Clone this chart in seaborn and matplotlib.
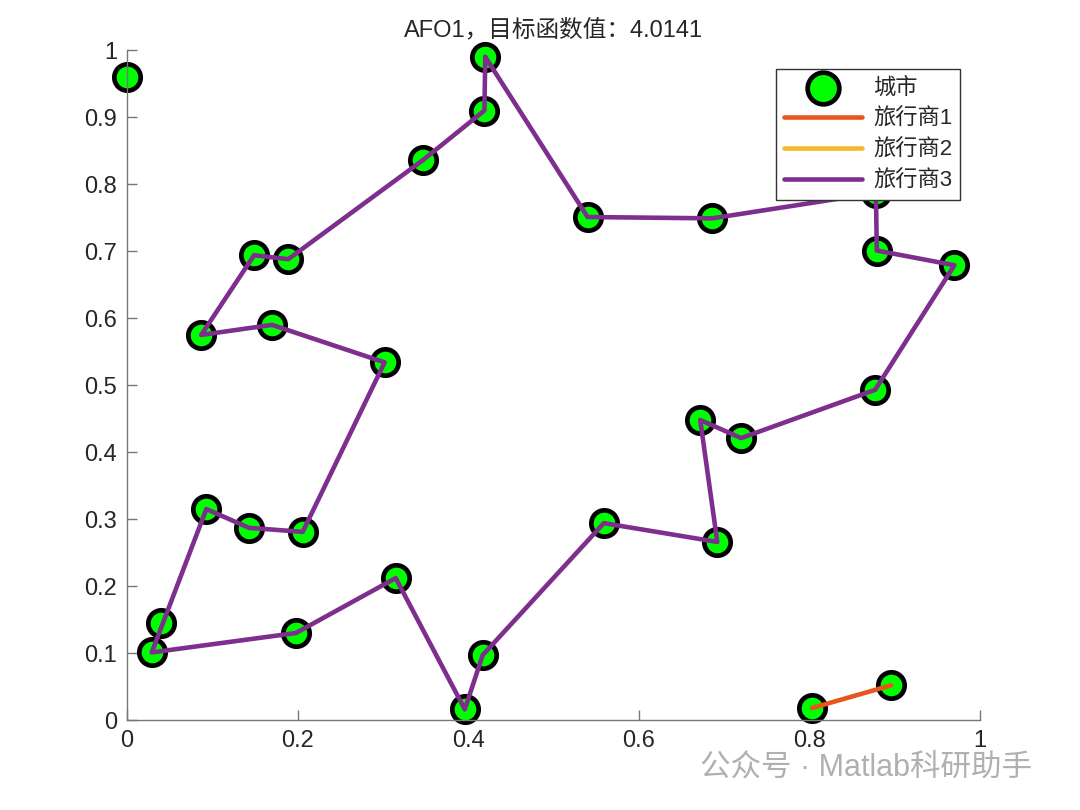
import numpy as np
import pandas as pd
import matplotlib
matplotlib.use("Agg")
import matplotlib.pyplot as plt
import seaborn as sns

# city coordinates
city_x = [0.000, 0.420, 0.419, 0.347, 0.540, 0.686, 0.878, 0.879, 0.970, 0.877,
          0.720, 0.672, 0.692, 0.559, 0.417, 0.396, 0.315, 0.198, 0.029, 0.040,
          0.093, 0.143, 0.206, 0.302, 0.170, 0.087, 0.149, 0.189, 0.803, 0.896]
city_y = [0.960, 0.990, 0.910, 0.836, 0.751, 0.749, 0.787, 0.701, 0.679, 0.493,
          0.421, 0.448, 0.266, 0.294, 0.097, 0.016, 0.212, 0.130, 0.101, 0.145,
          0.315, 0.287, 0.281, 0.534, 0.590, 0.575, 0.694, 0.688, 0.018, 0.052]

# routes as city indices
route1 = [28, 29]
route2 = [0]
route3 = [1, 4, 5, 6, 7, 8, 9, 10, 11, 12, 13, 14, 15, 16, 17, 18, 20, 21, 22,
          23, 24, 25, 26, 27, 3, 2, 1]

route_names = ["旅行商1", "旅行商2", "旅行商3"]
route_colors = ["#E8561E", "#F5B82A", "#7E2F8E"]

title = "AFO1，目标函数值：4.0141"

sns.set_theme(style="white")
plt.rcParams['font.family'] = ['Liberation Sans', 'Noto Sans CJK SC', 'DejaVu Sans']
plt.rcParams['axes.unicode_minus'] = False

fig = plt.figure(figsize=(10.8, 8.1), dpi=100)
ax = fig.add_axes([0.1176, 0.111, 0.7898, 0.827])

cities = pd.DataFrame({"x": city_x, "y": city_y})
sns.scatterplot(data=cities, x="x", y="y", ax=ax, s=360, color="#00FF00",
                edgecolor="black", linewidth=3.4, zorder=2, label="城市",
                clip_on=False)

for r, name, c in zip([route1, route2, route3], route_names, route_colors):
    d = pd.DataFrame({"x": [city_x[i] for i in r], "y": [city_y[i] for i in r]})
    sns.lineplot(data=d, x="x", y="y", ax=ax, sort=False, color=c,
                 linewidth=3.3, zorder=3, label=name, estimator=None,
                 clip_on=False)

ax.set_xlim(0, 1)
ax.set_ylim(0, 1)
ax.set_xticks(np.arange(0, 1.01, 0.2))
ax.set_xticklabels(["0", "0.2", "0.4", "0.6", "0.8", "1"])
ax.set_yticks(np.arange(0, 1.01, 0.1))
ax.set_yticklabels(["0"] + [f"{v:.1f}" for v in np.arange(0.1, 0.95, 0.1)] + ["1"])
ax.set_xlabel("")
ax.set_ylabel("")
ax.set_title(title, fontsize=17, color="#262626", pad=10)

for s in ["top", "right"]:
    ax.spines[s].set_visible(False)
for s in ["left", "bottom"]:
    ax.spines[s].set_color("#777777")
    ax.spines[s].set_linewidth(1.0)
ax.tick_params(axis="both", direction="in", length=7, width=1.0,
               colors="#777777", labelcolor="#262626", labelsize=17,
               bottom=True, left=True, pad=7)

leg = ax.legend(loc="upper right", bbox_to_anchor=(0.9766, 0.9716),
                borderaxespad=0, fontsize=16, frameon=True, fancybox=False,
                edgecolor="#333333", framealpha=1, handlelength=3.5,
                labelspacing=0.45, borderpad=0.35, handletextpad=0.5,
                markerscale=1.2)
leg.get_frame().set_linewidth(1.0)
for t in leg.get_texts():
    t.set_color("#262626")

fig.text(0.648, 0.052, "公众号 · Matlab科研助手", fontsize=22,
         color="#B0B0B0", ha="left", va="center")

fig.savefig("out.png", dpi=100, facecolor="white")
